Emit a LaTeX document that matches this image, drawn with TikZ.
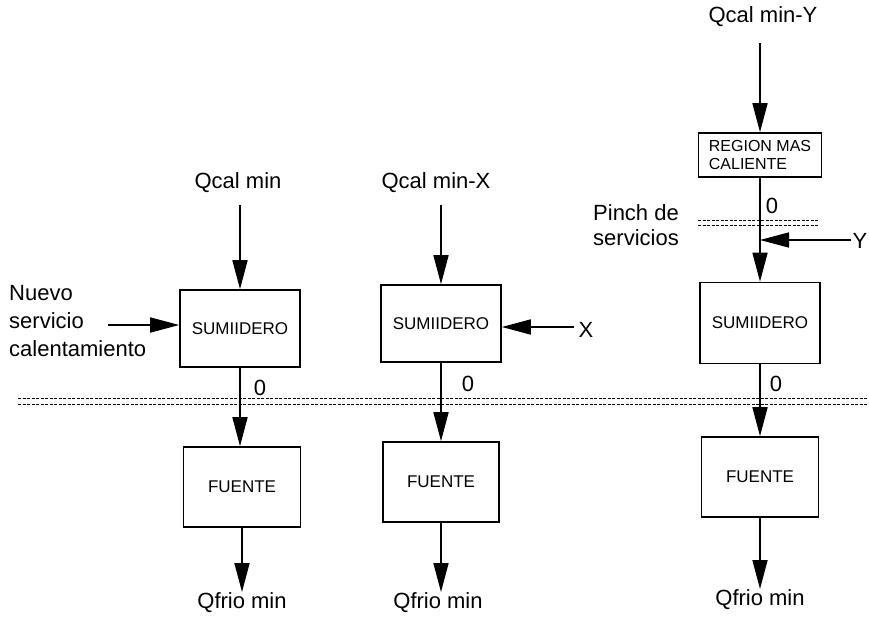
\documentclass[tikz,border=0pt]{standalone}
\usepackage{fontspec}
\setmainfont{Liberation Sans}
\usetikzlibrary{arrows.meta}
\begin{document}
\begin{tikzpicture}[x=1pt,y=-1pt,
  box/.style={draw,line width=1.6pt,font=\fontsize{17}{19}\selectfont,inner sep=0pt},
  lbl/.style={font=\fontsize{22}{26}\selectfont,inner sep=0pt},
  zero/.style={font=\fontsize{22}{22}\selectfont,inner sep=0pt},
  arr/.style={line width=1.6pt,-{Triangle[length=29pt,width=15pt]}},
  pinch/.style={line width=0.6pt,dash pattern=on 3pt off 1.5pt}]
\useasboundingbox (0,0) rectangle (869,617);
% column 1
\node[lbl] (q1) at (238,183) {Qcal min};
\node[box,minimum width=120pt,minimum height=77pt] (s1) at (240,328.5) {SUMIIDERO};
\node[box,minimum width=117pt,minimum height=80pt] (f1) at (242,487) {FUENTE};
\node[lbl,anchor=north] (r1) at (242,592) {Qfrio min};
\node[lbl,align=left,anchor=north west,font=\fontsize{22}{28}\selectfont] (nv) at (9,285) {Nuevo\\servicio\\calentamiento};
\coordinate (nvs) at (108,325);
\draw[arr] (s1.north |- q1.south) ++(0,12) -- (s1.north);
\draw[arr] (nvs) -- (s1.west |- nvs);
\draw[arr] (s1.south) -- (s1.south |- f1.north);
\draw[arr] (f1.south) -- (f1.south |- r1.north);
\node[zero] (z1) at (260,388) {0};
% column 2
\node[lbl] (q2) at (436,183) {Qcal min-X};
\node[box,minimum width=120pt,minimum height=77pt] (s2) at (441,323.5) {SUMIIDERO};
\node[box,minimum width=116pt,minimum height=80pt] (f2) at (441,482) {FUENTE};
\node[lbl,anchor=north] (r2) at (438,592) {Qfrio min};
\node[lbl] (x2) at (586,330) {X};
\coordinate (xs) at (574,327);
\draw[arr] (s2.north |- q2.south) ++(0,12) -- (s2.north);
\draw[arr] (xs) -- (s2.east |- xs);
\draw[arr] (s2.south) -- (f2.north);
\draw[arr] (f2.south) -- (r2.north -| f2.south);
\node[zero] (z2) at (468,384) {0};
% column 3
\node[lbl] (q3) at (763,17) {Qcal min-Y};
\node[box,minimum width=123pt,minimum height=44pt,align=left,font=\fontsize{16}{18}\selectfont] (rg) at (760,155) {REGION MAS\\CALIENTE};
\node[box,minimum width=120pt,minimum height=81pt] (s3) at (760,323) {SUMIIDERO};
\node[box,minimum width=117pt,minimum height=80pt] (f3) at (760,477) {FUENTE};
\node[lbl,anchor=north] (r3) at (760,589) {Qfrio min};
\node[lbl,align=left,anchor=north west,font=\fontsize{22}{25}\selectfont] (pn) at (593,204) {Pinch de\\servicios};
\node[lbl] (y3) at (860,241) {Y};
\coordinate (ys) at (851,240);
\coordinate (yj) at (760,240);
\draw[arr] (rg.north |- q3.south) ++(0,16) -- (rg.north);
\draw[line width=1.6pt] (rg.south) -- (yj);
\draw[arr] (yj) -- (s3.north);
\draw[arr] (ys) -- (yj);
\draw[arr] (s3.south) -- (f3.north);
\draw[arr] (f3.south) -- (r3.north);
\node[zero] (z3) at (772,206) {0};
\node[zero] (z4) at (776,384) {0};
% dashed pinch lines
\draw[pinch] (698,220) -- (818,220);
\draw[pinch] (698,225) -- (818,225);
\draw[pinch] (18,398) -- (869,398);
\draw[pinch] (18,404) -- (869,404);
\end{tikzpicture}
\end{document}
